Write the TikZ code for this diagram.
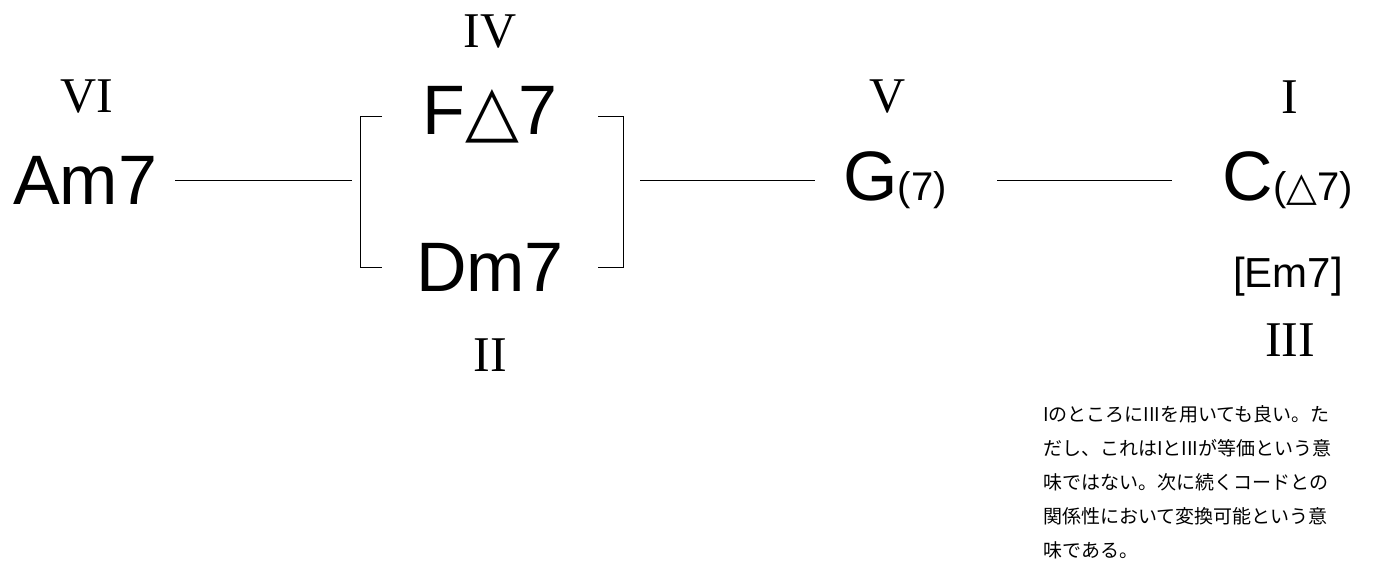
\documentclass[tikz,border=0pt]{standalone}
\usepackage{fontspec}
\setmainfont{Liberation Serif}
\newfontfamily\chordf{Liberation Sans}
\newfontfamily\symf{DejaVu Sans}
\newfontfamily\jpf{Noto Sans CJK JP}
\newcommand{\tri}{{\symf\char"25B3}}
\begin{document}
\begin{tikzpicture}[x=1pt,y=-1pt,
  roman/.style={font=\fontsize{50}{50}\selectfont, inner sep=0},
  chord/.style={font=\chordf\fontsize{70}{70}\selectfont, inner sep=0},
  small/.style={font=\chordf\fontsize{42}{42}\selectfont, inner sep=0},
  ln/.style={line width=1pt}]
\useasboundingbox (0,0) rectangle (1392,578);
\node[roman] (r6) at (87,97) {VI};
\node[chord] (am) at (85,180) {Am7};
\node[roman] (r4) at (490,32) {IV};
\node[chord] (f) at (490,115) {F\tri7};
\node[chord] (dm) at (490,267) {Dm7};
\node[roman] (r2) at (490,355) {II};
\node[roman] (r5) at (888,97) {V};
\node[chord] (g) at (895,180) {G{\fontsize{40}{40}\selectfont(7)}};
\node[roman] (r1) at (1290,97) {I};
\node[chord] (c) at (1288,180) {C{\fontsize{40}{40}\selectfont(\tri7)}};
\node[small] (em) at (1288,277) {[Em7]};
\node[roman] (r3) at (1290,340) {III};
\coordinate (a1) at (175,180); \coordinate (a2) at (352,180);
\coordinate (b1) at (640,180); \coordinate (b2) at (815,180);
\coordinate (c1) at (997,180); \coordinate (c2) at (1172,180);
\draw[ln] (a1) -- (a2);
\draw[ln] (b1) -- (b2);
\draw[ln] (c1) -- (c2);
\coordinate (lt) at (382,116); \coordinate (lb) at (382,267);
\coordinate (rt) at (598,116); \coordinate (rb) at (598,267);
\draw[ln] (lt) -- (360,116) -- (360,267) -- (lb);
\draw[ln] (rt) -- (623,116) -- (623,267) -- (rb);
\node[font=\jpf\fontsize{19}{34}\selectfont, anchor=north west, align=left, inner sep=0] (note) at (1043,405)
{IのところにIIIを用いても良い。た\\だし、これはIとIIIが等価という意\\味ではない。次に続くコードとの\\関係性において変換可能という意\\味である。};
\end{tikzpicture}
\end{document}
